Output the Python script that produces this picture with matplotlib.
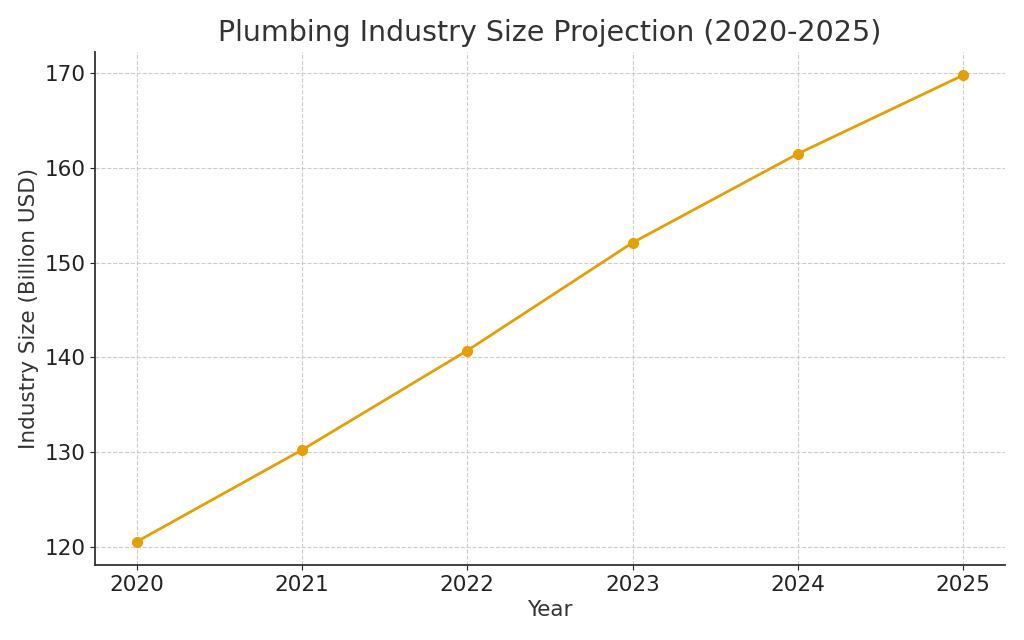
import matplotlib
matplotlib.use("Agg")
import matplotlib.pyplot as plt

years = [2020, 2021, 2022, 2023, 2024, 2025]
industry_size = [120.5, 130.2, 140.7, 152.1, 161.5, 169.8]

fig = plt.figure(figsize=(10.24, 6.4), dpi=100)
ax = fig.add_subplot(1, 1, 1)

ax.plot(years, industry_size, color='#E69F00', marker='o', markersize=7, linewidth=2)

ax.set_title("Plumbing Industry Size Projection (2020-2025)", fontsize=20.5, color='#333333', pad=8)
ax.set_xlabel("Year", fontsize=15.5, color='#333333')
ax.set_ylabel("Industry Size (Billion USD)", fontsize=15.5, color='#333333')
ax.set_xticks(years)
ax.tick_params(labelsize=15.5, colors='#222222')
ax.grid(True, linestyle='--', color='#cccccc', linewidth=0.8)

ax.spines['top'].set_visible(False)
ax.spines['right'].set_visible(False)
for s in ['left', 'bottom']:
    ax.spines[s].set_color('#333333')
    ax.spines[s].set_linewidth(1.3)

fig.subplots_adjust(left=0.093, right=0.981, top=0.919, bottom=0.117)
fig.savefig("out.png", dpi=100)
